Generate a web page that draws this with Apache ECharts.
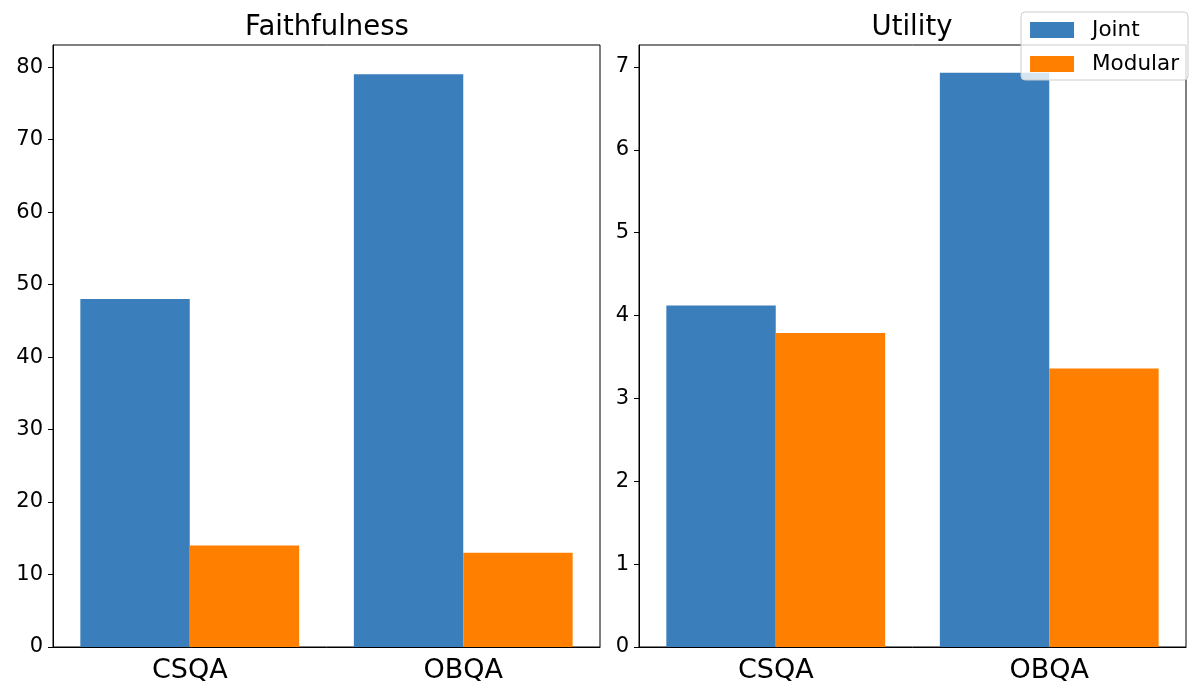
<!DOCTYPE html>
<html><head><meta charset="utf-8">
<script src="https://cdn.jsdelivr.net/npm/echarts@6/dist/echarts.min.js"></script>
<style>html,body{margin:0;padding:0;background:#fff}#c{width:1200px;height:700px}</style>
</head><body><div id="c"></div>
<script>
const categories = ['CSQA', 'OBQA'];
const faithJoint = [48, 79];
const faithModular = [14, 13];
const utilJoint = [4.12, 6.93];
const utilModular = [3.79, 3.36];
const faithTicks = [0, 10, 20, 30, 40, 50, 60, 70, 80];
const utilTicks = [0, 1, 2, 3, 4, 5, 6, 7];

const BLUE = '#3a7ebb', ORANGE = '#ff8000';
const F = 'DejaVu Sans';
const chart = echarts.init(document.getElementById('c'));
function xAx(i){return {type:'category',gridIndex:i,data:categories,
  axisLine:{lineStyle:{color:'#000'}},axisTick:{alignWithLabel:true,length:5,lineStyle:{color:'#000'}},
  axisLabel:{fontFamily:F,fontSize:27,color:'#000',margin:10}};}
function yAx(i,max,interval){return {type:'value',gridIndex:i,min:0,max:max,interval:interval,
  axisLine:{show:true,lineStyle:{color:'#000'}},axisTick:{show:true,length:5,lineStyle:{color:'#000'}},
  splitLine:{show:false},axisLabel:{fontFamily:F,fontSize:21,color:'#000',margin:10,
   showMaxLabel:false}};}
chart.setOption({
  animation:false,
  title:[
    {text:'Faithfulness',left:322,top:9,textAlign:'center',textStyle:{fontFamily:F,fontSize:27.5,fontWeight:'normal',color:'#000'}},
    {text:'Utility',left:907,top:9,textAlign:'center',textStyle:{fontFamily:F,fontSize:27.5,fontWeight:'normal',color:'#000'}}
  ],
  legend:{right:12,top:12,orient:'vertical',itemWidth:44,itemHeight:16,itemGap:12,
    padding:[7,9,5,9],borderColor:'#ccc',borderWidth:1,borderRadius:4,backgroundColor:'rgba(255,255,255,0.8)',
    textStyle:{fontFamily:F,fontSize:21.5,color:'#000',padding:[0,0,0,13]},
    data:['Joint','Modular'],icon:'rect'},
  grid:[
    {left:53,top:45,width:547,height:602,show:true,borderColor:'#000',borderWidth:1,backgroundColor:'transparent'},
    {left:639,top:45,width:547,height:602,show:true,borderColor:'#000',borderWidth:1,backgroundColor:'transparent'}
  ],
  xAxis:[xAx(0),xAx(1)],
  yAxis:[yAx(0,83.05,10),yAx(1,7.265,1)],
  series:[
    {name:'Joint',type:'bar',xAxisIndex:0,yAxisIndex:0,data:faithJoint,itemStyle:{color:BLUE},barWidth:'40%',barGap:'0%'},
    {name:'Modular',type:'bar',xAxisIndex:0,yAxisIndex:0,data:faithModular,itemStyle:{color:ORANGE},barWidth:'40%',barGap:'0%'},
    {name:'Joint',type:'bar',xAxisIndex:1,yAxisIndex:1,data:utilJoint,itemStyle:{color:BLUE},barWidth:'40%',barGap:'0%'},
    {name:'Modular',type:'bar',xAxisIndex:1,yAxisIndex:1,data:utilModular,itemStyle:{color:ORANGE},barWidth:'40%',barGap:'0%'}
  ]
});
</script></body></html>
